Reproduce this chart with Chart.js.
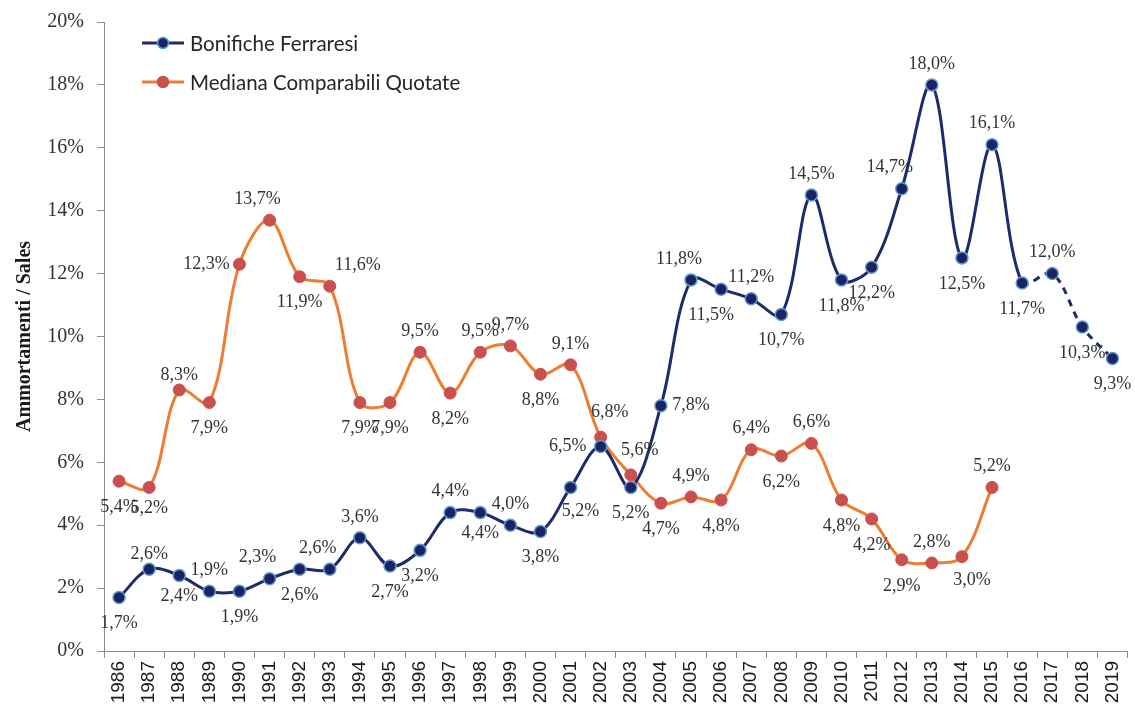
<!DOCTYPE html>
<html>
<head>
<meta charset="utf-8">
<script src="https://cdn.jsdelivr.net/npm/chart.js@4.4.1/dist/chart.umd.min.js"></script>
<style>
html,body{margin:0;padding:0;background:#fff;}
#wrap{width:1135px;height:708px;position:relative;}
</style>
</head>
<body>
<div id="wrap"><canvas id="c" width="1135" height="708"></canvas></div>
<script>
const years = ['1986','1987','1988','1989','1990','1991','1992','1993','1994','1995','1996','1997','1998','1999','2000','2001','2002','2003','2004','2005','2006','2007','2008','2009','2010','2011','2012','2013','2014','2015','2016','2017','2018','2019'];
const bonifiche = [1.7,2.6,2.4,1.9,1.9,2.3,2.6,2.6,3.6,2.7,3.2,4.4,4.4,4.0,3.8,5.2,6.5,5.2,7.8,11.8,11.5,11.2,10.7,14.5,11.8,12.2,14.7,18.0,12.5,16.1,11.7,12.0,10.3,9.3];
const mediana = [5.4,5.2,8.3,7.9,12.3,13.7,11.9,11.6,7.9,7.9,9.5,8.2,9.5,9.7,8.8,9.1,6.8,5.6,4.7,4.9,4.8,6.4,6.2,6.6,4.8,4.2,2.9,2.8,3.0,5.2,null,null,null,null];
const seriesNames = ['Bonifiche Ferraresi','Mediana Comparabili Quotate'];
const yTitle = 'Ammortamenti / Sales';
const forecastFrom = 30; // index of 2016: dashed afterwards

// label placement codes (layout only)
const bonLabelPos = ['b','as','bs','a','b','al','b','al','a','b','b','a','bs','a','b','br','l','b','r','al','bl','a','b','a','b','b','al','a','b','a','b','a','b','b'];
const medLabelPos = ['b','bs','as','b','l','al','b','ur','b','b','a','b','a','a','b','a','ar','ar','b','a','b','a','b','a','b','b','b','a','br','a'];
const OFF = {a:[0,-21],b:[0,26],as:[0,-15],bs:[0,21],al:[-12,-21],ar:[9,-25],bl:[-10,26],br:[10,24],l:[-33,0],r:[30,0],ur:[28,-21]};

const NAVY = '#1c2262';
const NAVYLINE = '#1f2a6b';
const LBLUE = '#5b9bd5';
const ORANGE = '#ed7d31';
const RED = '#c9504e';
const AXIS = '#8c8c8c';

const fmt = v => v.toFixed(1).replace('.', ',') + '%';

const labelPlugin = {
  id: 'vlabels',
  afterDatasetsDraw(chart) {
    const ctx = chart.ctx;
    ctx.save();
    ctx.font = '18px "Liberation Serif"';
    ctx.fillStyle = '#333333';
    ctx.textAlign = 'center';
    ctx.textBaseline = 'middle';
    const posSets = [bonLabelPos, medLabelPos];
    chart.data.datasets.forEach((ds, di) => {
      const meta = chart.getDatasetMeta(di);
      meta.data.forEach((pt, i) => {
        const v = ds.data[i];
        if (v === null || v === undefined) return;
        const o = OFF[posSets[di][i]] || [0,-21];
        ctx.fillText(fmt(v), pt.x + o[0], pt.y + o[1]);
      });
    });
    ctx.restore();
  }
};

const legendPlugin = {
  id: 'customLegend',
  afterDraw(chart) {
    const ctx = chart.ctx;
    ctx.save();
    const items = [
      {y: 43, line: NAVYLINE, fill: NAVY, border: LBLUE, text: seriesNames[0]},
      {y: 82, line: ORANGE, fill: RED, border: RED, text: seriesNames[1]}
    ];
    items.forEach(it => {
      ctx.strokeStyle = it.line;
      ctx.lineWidth = 3;
      ctx.beginPath(); ctx.moveTo(142, it.y); ctx.lineTo(184, it.y); ctx.stroke();
      ctx.beginPath(); ctx.arc(163, it.y, 5.5, 0, Math.PI*2);
      ctx.fillStyle = it.fill; ctx.fill();
      ctx.lineWidth = 1.5; ctx.strokeStyle = it.border; ctx.stroke();
      ctx.font = '20.5px Lato';
      ctx.fillStyle = '#262626';
      ctx.textAlign = 'left';
      ctx.textBaseline = 'middle';
      ctx.fillText(it.text, 190, it.y + 1);
    });
    ctx.restore();
  }
};

new Chart(document.getElementById('c'), {
  type: 'line',
  data: {
    labels: years,
    datasets: [
      {
        label: seriesNames[0],
        data: bonifiche,
        borderColor: NAVYLINE,
        borderWidth: 3,
        backgroundColor: NAVY,
        pointBackgroundColor: NAVY,
        pointBorderColor: LBLUE,
        pointBorderWidth: 1.5,
        pointRadius: 6,
        tension: 0.35,
        segment: {
          borderDash: c => c.p0DataIndex >= forecastFrom ? [7,6] : undefined
        }
      },
      {
        label: seriesNames[1],
        data: mediana,
        borderColor: ORANGE,
        borderWidth: 3,
        backgroundColor: RED,
        pointBackgroundColor: RED,
        pointBorderColor: RED,
        pointBorderWidth: 1,
        pointRadius: 6,
        tension: 0.35,
        spanGaps: false
      }
    ]
  },
  options: {
    responsive: false,
    animation: false,
    devicePixelRatio: 1,
    layout: {padding: {top: 22, right: 2, left: 0, bottom: 0}},
    plugins: {
      legend: {display: false},
      tooltip: {enabled: false}
    },
    scales: {
      x: {
        offset: true,
        grid: {offset: true, drawOnChartArea: false, drawTicks: true, tickLength: 7, color: AXIS},
        border: {color: AXIS, width: 1},
        ticks: {
          minRotation: 90, maxRotation: 90, autoSkip: false, padding: 3,
          font: {family: '"Liberation Sans"', size: 19},
          color: '#1a1a1a'
        },
        afterFit: s => { s.height = 57; s.paddingLeft = 0; s.paddingRight = 0; }
      },
      y: {
        min: 0, max: 20,
        grid: {drawOnChartArea: false, drawTicks: true, tickLength: 7, color: AXIS},
        border: {color: AXIS, width: 1},
        ticks: {
          stepSize: 2, padding: 13,
          callback: v => v + '%',
          font: {family: '"Liberation Serif"', size: 20},
          color: '#333333'
        },
        title: {
          display: true, text: yTitle,
          font: {family: '"Liberation Serif"', size: 20, weight: 'bold'},
          color: '#1a1a1a', padding: {top: 13, bottom: 0}
        },
        afterFit: s => { s.width = 104; s.paddingTop = 0; s.paddingBottom = 0; }
      }
    }
  },
  plugins: [labelPlugin, legendPlugin]
});
</script>
</body>
</html>
